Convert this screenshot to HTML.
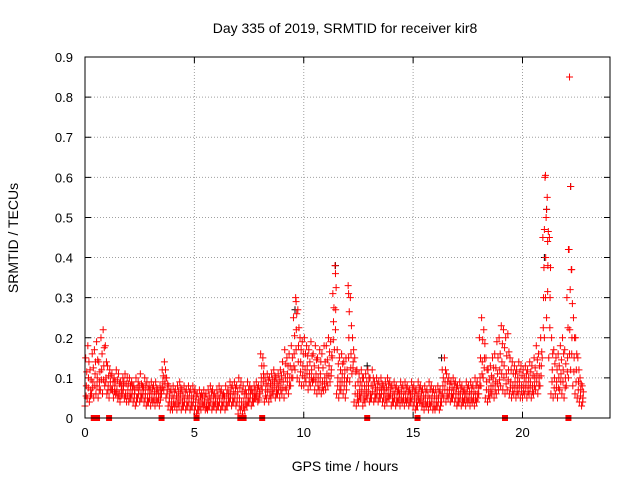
<!DOCTYPE html>
<html><head><meta charset="utf-8"><style>
html,body{margin:0;padding:0;background:#fff;}
svg{display:block;font-family:"Liberation Sans",sans-serif;}
</style></head><body>
<svg id="chart" width="640" height="480">
<rect width="640" height="480" fill="#fff"/>
<text x="345" y="33" font-size="14" text-anchor="middle">Day 335 of 2019, SRMTID for receiver kir8</text>
<text x="345" y="471" font-size="14" text-anchor="middle">GPS time / hours</text>
<text transform="translate(18,238) rotate(-90)" font-size="14" text-anchor="middle">SRMTID / TECUs</text>
<g id="grid"></g>
<g id="ticks"></g>
<g id="marks"></g>
<rect x="85" y="57" width="525" height="361" fill="none" stroke="#000" stroke-width="1"/>
</svg>
<script>
const xTicks=[0,5,10,15,20];
const yTicks=[0,0.1,0.2,0.3,0.4,0.5,0.6,0.7,0.8,0.9];
const yTickLabels=["0","0.1","0.2","0.3","0.4","0.5","0.6","0.7","0.8","0.9"];
const tStep=0.1;
const lo=[.03,.05,.04,.06,.05,.06,.05,.07,.06,.08,
.06,.05,.07,.05,.06,.05,.04,.06,.05,.04,
.04,.05,.04,.03,.05,.04,.05,.04,.03,.04,
.03,.04,.03,.04,.03,.06,.07,.05,.03,.02,
.02,.03,.02,.03,.02,.03,.02,.03,.02,.03,
.02,.01,.02,.02,.03,.02,.02,.03,.02,.03,
.02,.03,.02,.03,.02,.03,.04,.03,.04,.03,
.01,.02,.01,.02,.03,.04,.03,.04,.05,.04,
.06,.07,.04,.05,.04,.05,.06,.05,.06,.05,
.06,.05,.07,.06,.08,.1,.12,.1,.09,.08,
.08,.09,.07,.08,.09,.07,.06,.07,.06,.07,
.07,.08,.09,.15,.17,.06,.05,.07,.06,.05,
.1,.09,.11,.04,.03,.04,.05,.03,.04,.05,
.04,.05,.04,.05,.04,.05,.04,.03,.04,.05,
.03,.04,.03,.04,.03,.04,.03,.04,.03,.04,
.03,.02,.03,.04,.03,.02,.03,.02,.03,.02,
.02,.03,.02,.04,.05,.04,.05,.04,.05,.04,
.03,.04,.03,.04,.03,.04,.03,.04,.03,.04,
.06,.08,.1,.05,.04,.05,.06,.05,.06,.07,
.08,.07,.06,.07,.06,.05,.06,.05,.06,.05,
.05,.06,.05,.06,.05,.06,.07,.06,.08,.15,
.2,.25,.15,.06,.05,.06,.05,.07,.06,.05,
.08,.1,.12,.08,.06,.05,.04,.03];
const mid=[.08,.1,.07,.09,.11,.1,.09,.12,.13,.1,
.08,.09,.07,.08,.07,.06,.07,.08,.06,.07,
.06,.07,.06,.05,.07,.06,.07,.06,.05,.06,
.06,.05,.06,.05,.06,.09,.1,.07,.05,.04,
.05,.04,.05,.06,.04,.05,.04,.05,.04,.05,
.04,.03,.04,.05,.04,.03,.04,.05,.04,.04,
.04,.05,.04,.05,.04,.05,.06,.05,.06,.05,
.05,.04,.04,.05,.05,.06,.05,.06,.06,.05,
.1,.11,.07,.08,.07,.08,.09,.07,.08,.09,
.09,.1,.11,.1,.12,.16,.22,.18,.14,.13,
.12,.13,.11,.12,.1,.11,.1,.11,.09,.1,
.11,.13,.12,.24,.27,.1,.09,.11,.1,.09,
.2,.16,.14,.08,.06,.07,.08,.06,.07,.08,
.06,.08,.06,.07,.06,.07,.06,.06,.07,.06,
.05,.06,.05,.05,.06,.05,.06,.05,.05,.06,
.05,.04,.06,.05,.04,.05,.04,.05,.05,.04,
.04,.05,.04,.08,.09,.07,.07,.06,.07,.06,
.05,.06,.05,.05,.06,.05,.06,.05,.06,.06,
.1,.14,.15,.09,.07,.08,.1,.09,.11,.12,
.14,.13,.11,.12,.09,.08,.09,.08,.09,.08,
.08,.09,.08,.09,.08,.1,.11,.1,.13,.3,
.4,.38,.3,.12,.1,.09,.1,.11,.12,.1,
.15,.22,.2,.15,.12,.09,.07,.05];
const hi=[.15,.18,.12,.16,.17,.19,.14,.2,.22,.18,
.13,.12,.11,.1,.12,.11,.09,.1,.11,.1,
.1,.09,.08,.1,.09,.11,.08,.1,.09,.08,
.09,.08,.09,.07,.08,.12,.14,.1,.08,.07,
.08,.07,.08,.09,.07,.08,.07,.08,.07,.08,
.07,.06,.07,.06,.07,.06,.07,.08,.07,.06,
.07,.08,.07,.06,.08,.07,.09,.08,.09,.08,
.1,.09,.08,.07,.09,.08,.07,.08,.09,.08,
.16,.15,.1,.11,.1,.11,.12,.1,.11,.12,
.14,.17,.15,.16,.18,.25,.3,.27,.2,.19,
.2,.18,.17,.19,.16,.18,.15,.17,.16,.18,
.18,.2,.19,.31,.38,.17,.15,.16,.14,.15,
.33,.3,.2,.15,.12,.11,.12,.1,.11,.12,
.1,.12,.09,.1,.09,.1,.08,.09,.1,.09,
.08,.09,.08,.07,.09,.08,.09,.08,.07,.09,
.08,.07,.09,.08,.07,.08,.07,.09,.08,.07,
.07,.08,.07,.12,.15,.11,.1,.09,.1,.09,
.08,.09,.08,.07,.09,.08,.09,.08,.1,.09,
.2,.25,.22,.15,.12,.13,.15,.16,.19,.2,
.23,.22,.2,.21,.15,.14,.13,.12,.14,.13,
.12,.13,.12,.14,.13,.15,.18,.16,.2,.45,
.6,.55,.45,.2,.17,.15,.16,.18,.2,.17,
.3,.42,.37,.25,.2,.15,.1,.08];
const spikeT=[21.0,21.05,21.1,22.15,22.2,22.1,11.45,12.05,9.65,21.15,22.25];
const spikeV=[0.47,0.605,0.52,0.85,0.577,0.42,0.36,0.31,0.29,0.44,0.37];
const blackT=[22.2,16.3,21.1,11.45,9.6,12.9,21.0];
const blackV=[0.577,0.15,0.52,0.38,0.27,0.13,0.4];
const zeroT=[0.4,0.55,1.1,3.5,5.1,7.1,7.25,8.1,12.9,15.2,19.2,22.1];

const X0=85,X1=610,Y0=418,Y1=57,XMAX=24,YMAX=0.9;
function sx(t){return X0+(X1-X0)*t/XMAX;}
function sy(v){return Y0-(Y0-Y1)*v/YMAX;}
const NS="http://www.w3.org/2000/svg";
const grid=document.getElementById('grid'),ticks=document.getElementById('ticks'),marks=document.getElementById('marks');
function mk(tag,attrs,parent){const e=document.createElementNS(NS,tag);for(const k in attrs)e.setAttribute(k,attrs[k]);parent.appendChild(e);return e;}
xTicks.forEach(t=>{const x=sx(t);
 if(t>0){const g=mk('line',{x1:x,x2:x,y1:Y1,y2:Y0,stroke:'#a0a0a0','stroke-dasharray':'1,2'},grid);
 
 }
 const tk=mk('path',{d:`M${x},${Y0}v-6M${x},${Y1}v6`,stroke:'#000'},ticks);
 
 
 const l=mk('text',{x:x,y:Y0+19,'font-size':13,'text-anchor':'middle'},ticks);l.textContent=t;
 
 });
yTicks.forEach((v,i)=>{const y=sy(v);
 if(v>0&&v<0.9){const g=mk('line',{x1:X0,x2:X1,y1:y,y2:y,stroke:'#a0a0a0','stroke-dasharray':'1,2'},grid);
 
 }
 const tk=mk('path',{d:`M${X0},${y}h6M${X1},${y}h-6`,stroke:'#000'},ticks);
 
 
 const l=mk('text',{x:X0-12,y:y+5,'font-size':13,'text-anchor':'end'},ticks);l.textContent=yTickLabels[i];
 
 });
function plus(t,v,color){const x=sx(t),y=sy(v);
 const p=mk('path',{d:`M${x-3.5},${y}h7M${x},${y-3.5}v7`,stroke:color,'stroke-width':1,fill:'none'},marks);
 
 }
blackT.forEach((t,i)=>plus(t,blackV[i],'#000'));
lo.forEach((v,i)=>{const t=i*tStep;
 plus(t,v,'#ff0000');
 plus(t+0.03,hi[i],'#ff0000');
 plus(t+0.06,mid[i],'#ff0000');
 plus(t+0.05,(v+mid[i])/2,'#ff0000');
 plus(t+0.08,(hi[i]+mid[i])/2,'#ff0000');});
spikeT.forEach((t,i)=>plus(t,spikeV[i],'#ff0000'));
zeroT.forEach(t=>{const r=mk('rect',{x:sx(t)-3,y:Y0-3,width:6,height:6,fill:'#ff0000'},marks);
 
 });
</script>
</body></html>
